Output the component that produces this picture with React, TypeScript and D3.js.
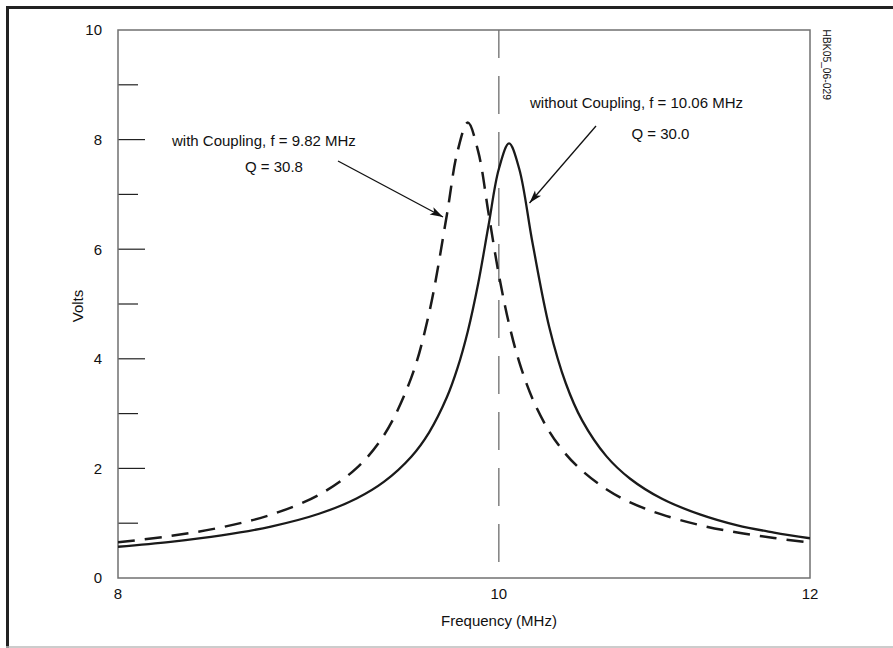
import React from "react";
import * as d3 from "d3";

// frequency (MHz) sample points
const freqs = [
  8.0, 8.25, 8.5, 8.75, 9.0, 9.2, 9.35, 9.5, 9.6, 9.7, 9.76, 9.82, 9.88, 9.94,
  10.0, 10.06, 10.12, 10.2, 10.3, 10.4, 10.5, 10.65, 10.8, 11.0, 11.25, 11.5,
  11.75, 12.0
];

// volts, without coupling (solid)
const withoutCoupling = [
  0.57, 0.66, 0.777, 0.938, 1.172, 1.452, 1.759, 2.214, 2.659, 3.297, 3.824,
  4.504, 5.379, 6.436, 7.464, 7.93, 7.469, 6.103, 4.577, 3.554, 2.876, 2.224,
  1.811, 1.45, 1.16, 0.96, 0.83, 0.725
];

// volts, with coupling (dashed)
const withCoupling = [
  0.652, 0.767, 0.925, 1.155, 1.519, 2.006, 2.61, 3.656, 4.84, 6.625, 7.774,
  8.31, 7.781, 6.654, 5.537, 4.636, 3.945, 3.266, 2.675, 2.261, 1.957, 1.62,
  1.38, 1.16, 0.965, 0.83, 0.73, 0.645
];

const yMajorTicks = [0, 2, 4, 6, 8, 10];
const yMinorTicks = [1, 3, 5, 7, 9];
const xTicks = [8, 10, 12];

export default function App() {
  const width = 893,
    height = 648,
    left = 118,
    right = 810,
    top = 30,
    bottom = 578;

  const x = d3.scaleLog().domain([8, 12]).range([left, right]);
  const y = d3.scaleLinear().domain([0, 10]).range([bottom, top]);

  const line = d3
    .line<number>()
    .x((d, i) => x(freqs[i]))
    .y(d => y(d))
    .curve(d3.curveCatmullRom.alpha(0.5));

  const font = "'Liberation Sans', Arial, Helvetica, sans-serif";

  return (
    <svg
      width={width}
      height={height}
      style={{ position: "absolute", left: 0, top: 0, background: "#fff" }}
      fontFamily={font}
    >
      <defs>
        <clipPath id="plot">
          <rect x={left} y={top} width={right - left} height={bottom - top} />
        </clipPath>
        <marker
          id="arrow"
          viewBox="-14 -5 15 10"
          refX={0}
          refY={0}
          markerWidth={15}
          markerHeight={10}
          markerUnits="userSpaceOnUse"
          orient="auto"
        >
          <path d="M0,0 L-13,-4 L-10,0 L-13,4 Z" fill="#111" />
        </marker>
      </defs>

      {/* outer frame */}
      <line x1={7.5} y1={6} x2={7.5} y2={648} stroke="#222" strokeWidth={3} />
      <line x1={6} y1={7.5} x2={893} y2={7.5} stroke="#222" strokeWidth={3} />
      <line x1={6} y1={647} x2={893} y2={647} stroke="#bbb" strokeWidth={1.5} />

      {/* y ticks */}
      {yMajorTicks.map(t => (
        <g key={"M" + t}>
          {t > 0 && t < 10 && (
            <line x1={left} x2={left + 27} y1={y(t)} y2={y(t)} stroke="#222" strokeWidth={1.2} />
          )}
          <text x={102} y={y(t)} dy="0.36em" textAnchor="end" fontSize={15} fill="#111">
            {t}
          </text>
        </g>
      ))}
      {yMinorTicks.map(t => (
        <line key={"m" + t} x1={left} x2={left + 20} y1={y(t)} y2={y(t)} stroke="#222" strokeWidth={1.2} />
      ))}

      {/* x tick labels */}
      {xTicks.map(t => (
        <text key={t} x={x(t)} y={593.5} dy="0.36em" textAnchor="middle" fontSize={15} fill="#111">
          {t}
        </text>
      ))}

      {/* dashed marker at 10 MHz */}
      <line
        x1={x(10)}
        x2={x(10)}
        y1={top}
        y2={bottom}
        stroke="#777"
        strokeWidth={1.4}
        strokeDasharray="38 18"
        strokeDashoffset={-46}
      />

      {/* plot box */}
      <rect x={left} y={top} width={right - left} height={bottom - top} fill="none" stroke="#707070" strokeWidth={1.5} />

      <g clipPath="url(#plot)">
        <path d={line(withoutCoupling) || ""} fill="none" stroke="#1a1a1a" strokeWidth={2.3} />
        <path
          d={line(withCoupling) || ""}
          fill="none"
          stroke="#1a1a1a"
          strokeWidth={2.5}
          strokeDasharray="17 10"
        />
      </g>

      {/* annotations */}
      <text x={172} y={145.5} fontSize={15} fill="#111">
        with Coupling, f = 9.82 MHz
      </text>
      <text x={245} y={171.5} fontSize={15} fill="#111">
        Q = 30.8
      </text>
      <line x1={338} y1={161} x2={443} y2={217} stroke="#111" strokeWidth={1.3} markerEnd="url(#arrow)" />

      <text x={530} y={107.5} fontSize={15} fill="#111">
        without Coupling, f = 10.06 MHz
      </text>
      <text x={631.5} y={138.5} fontSize={15} fill="#111">
        Q = 30.0
      </text>
      <line x1={596} y1={126} x2={529.5} y2={203} stroke="#111" strokeWidth={1.3} markerEnd="url(#arrow)" />

      {/* axis titles */}
      <text x={499} y={621} dy="0.36em" textAnchor="middle" fontSize={15} fill="#111">
        Frequency (MHz)
      </text>
      <text transform="translate(82.5,306) rotate(-90)" textAnchor="middle" fontSize={15} fill="#111">
        Volts
      </text>

      <text transform="translate(822.5,29.5) rotate(90)" fontSize={10.3} fill="#111">
        HBK05_06-029
      </text>
    </svg>
  );
}
